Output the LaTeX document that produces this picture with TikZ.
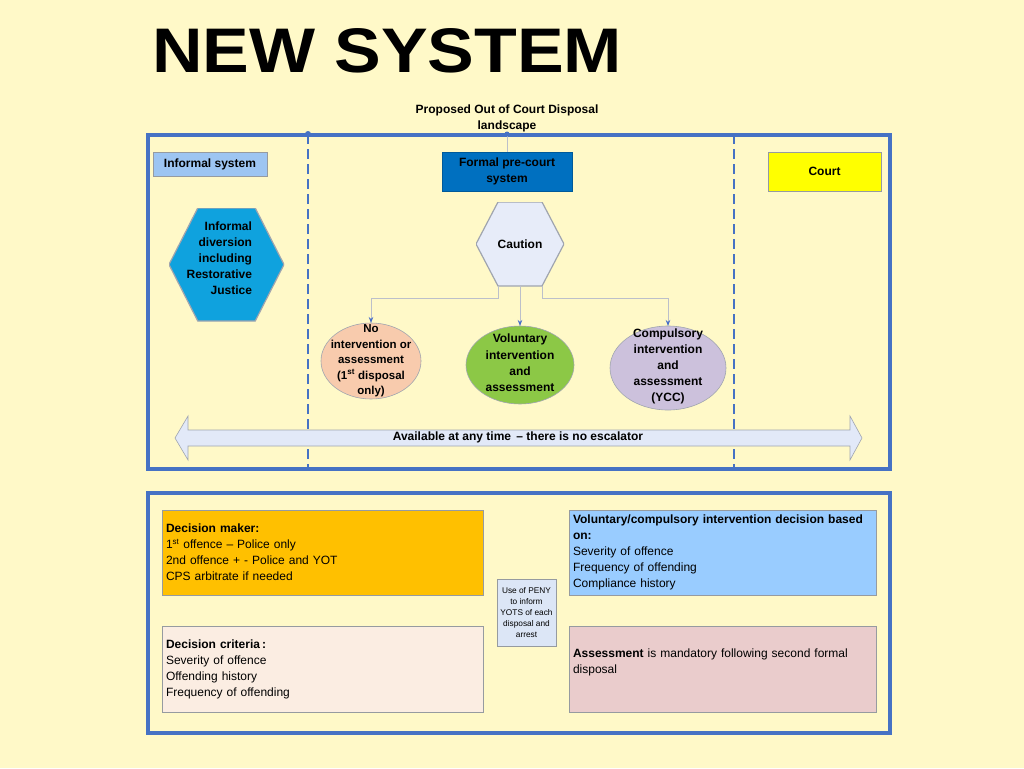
\documentclass[tikz,border=0pt]{standalone}
\usepackage{fontspec}
\setmainfont{Liberation Sans}
\usetikzlibrary{calc,arrows.meta,shapes.geometric}
\definecolor{bg}{RGB}{255,249,200}
\definecolor{frameblue}{RGB}{70,114,196}
\definecolor{tagborder}{RGB}{150,155,160}
\definecolor{hexborder}{RGB}{160,165,175}
\definecolor{infsys}{RGB}{157,197,242}
\definecolor{formalfill}{RGB}{0,112,192}
\definecolor{courtfill}{RGB}{255,255,0}
\definecolor{infohex}{RGB}{15,162,222}
\definecolor{cautionfill}{RGB}{231,236,249}
\definecolor{peach}{RGB}{248,203,173}
\definecolor{greenfill}{RGB}{140,200,70}
\definecolor{lavender}{RGB}{204,193,220}
\definecolor{arrowfill}{RGB}{226,233,248}
\definecolor{connline}{RGB}{188,192,202}
\definecolor{arrowblue}{RGB}{70,110,200}
\definecolor{dmfill}{RGB}{255,192,0}
\definecolor{critfill}{RGB}{251,237,226}
\definecolor{volfill}{RGB}{153,204,255}
\definecolor{assfill}{RGB}{234,204,204}
\definecolor{penyfill}{RGB}{220,230,246}
\begin{document}
\begin{tikzpicture}[x=1pt,y=-1pt,
  every node/.style={inner sep=0pt, outer sep=0pt},
  frame/.style={draw=frameblue, line width=4pt},
  divider/.style={draw=frameblue, line width=1.5pt, dash pattern=on 10pt off 5pt},
  lbl/.style={font=\fontsize{12}{16}\selectfont\bfseries, align=center},
  tag/.style={draw=tagborder, line width=0.6pt, lbl},
  hexa/.style={path picture={\path[fill=#1, draw=hexborder, line width=1.2pt]
     (path picture bounding box.west)
     -- ($(path picture bounding box.north west)!0.25!(path picture bounding box.north east)$)
     -- ($(path picture bounding box.north west)!0.75!(path picture bounding box.north east)$)
     -- (path picture bounding box.east)
     -- ($(path picture bounding box.south west)!0.75!(path picture bounding box.south east)$)
     -- ($(path picture bounding box.south west)!0.25!(path picture bounding box.south east)$)
     -- cycle;}},
  ell/.style={ellipse, draw=hexborder, line width=0.6pt},
  etxt/.style={font=\fontsize{11.5}{15.5}\selectfont\bfseries, align=center},
  infobox/.style={draw=tagborder, line width=0.6pt, anchor=north west, align=left,
     inner xsep=4pt, font=\fontsize{12}{16}\selectfont},
  conn/.style={draw=connline, line width=0.8pt, -{Stealth[length=6pt,width=4.5pt,color=arrowblue]}},
  bigarrow/.style={fill=arrowfill, draw=hexborder, line width=0.6pt}
]
\fill[bg] (0,0) rectangle (1024,768);
\useasboundingbox (0,0) rectangle (1024,768);

% title
\node[font=\fontsize{63}{63}\selectfont\bfseries, anchor=base west, xscale=1.11] (title) at (152,72) {NEW SYSTEM};

% top frame
\draw[frame] (148,135) rectangle (890,469);
\coordinate (d1t) at (308,134);
\coordinate (d1b) at (308,469);
\coordinate (d2t) at (734,134);
\coordinate (d2b) at (734,469);
\draw[divider] (d1t) -- (d1b);
\draw[divider] (d2t) -- (d2b);
\fill[frameblue] (d1t) circle (3);

\node[lbl] (prop) at (507,118) {Proposed Out of Court Disposal\\landscape};

% tags
\node[tag, fill=infsys, minimum width=114, minimum height=24] (infsys) at (210,164) {Informal system};
\node[tag, fill=formalfill, draw=formalfill!80!black, minimum width=130, minimum height=39] (formal) at (507,171.5) {Formal pre-court\\system};
\node[tag, fill=courtfill, minimum width=113, minimum height=39] (court) at (824.5,171.5) {Court};
\draw[connline, line width=0.8pt] (prop.south) -- (formal.north);
\fill[frameblue] (507,134) circle (2.5);

% hexagons
\node[hexa=infohex, minimum width=115, minimum height=113] (infh) at (226.5,264.5) {};
\node[lbl, align=right, anchor=east] (inft) at (252,258) {Informal\\diversion\\including\\Restorative\\Justice};
\node[hexa=cautionfill, minimum width=88, minimum height=84, lbl] (caution) at (520,244) {Caution};

% ellipses
\node[ell, fill=peach, minimum width=100, minimum height=76] (e1) at (371,361) {};
\node[etxt] (e1t) at (371,361) {No\\intervention or\\assessment\\(1\textsuperscript{st} disposal\\only)};
\node[ell, fill=greenfill, minimum width=108, minimum height=78] (e2) at (520,365) {};
\node[etxt, font=\fontsize{12}{16.3}\selectfont\bfseries] (e2t) at (520,363) {Voluntary\\intervention\\and\\assessment};
\node[ell, fill=lavender, minimum width=116, minimum height=84] (e3) at (668,368) {};
\node[etxt, font=\fontsize{12}{16}\selectfont\bfseries] (e3t) at (668,366) {Compulsory\\intervention\\and\\assessment\\(YCC)};

% connectors
\draw[conn] ($(caution.south west)!0.25!(caution.south east)$) -- ++(0,12) -| (e1.north);
\draw[conn] (caution.south) -- (e2.north);
\draw[conn] ($(caution.south west)!0.75!(caution.south east)$) -- ++(0,12) -| (e3.north);

% double arrow
\draw[bigarrow] (175,438) -- (188,416) -- (188,430) -- (850,430) -- (850,416) -- (862,438)
   -- (850,460) -- (850,446) -- (188,446) -- (188,460) -- cycle;
\node[lbl] (avail) at (518,437.5) {Available at any time \,– there is no escalator};

% bottom frame
\draw[frame] (148,493) rectangle (890,733);

\node[infobox, fill=dmfill, text width=313, minimum height=85] (dm) at (162,510)
  {\textbf{Decision maker:}\\1\textsuperscript{st} offence – Police only\\2nd offence + - Police and YOT\\CPS arbitrate if needed};
\node[infobox, fill=critfill, text width=313, minimum height=86] (crit) at (162,626)
  {\textbf{Decision criteria\,:}\\Severity of offence\\Offending history\\Frequency of offending};
\node[draw=tagborder, line width=0.6pt, fill=penyfill, minimum width=59, minimum height=67,
  font=\fontsize{8.3}{11.2}\selectfont, align=center] (peny) at (526.5,612.5)
  {Use of PENY\\to inform\\YOTS of each\\disposal and\\arrest};
\node[infobox, fill=volfill, text width=299, minimum height=85] (vol) at (569,510)
  {\textbf{Voluntary/compulsory intervention decision based}\\\textbf{on:}\\Severity of offence\\Frequency of offending\\Compliance history};
\node[infobox, fill=assfill, text width=299, minimum height=86] (ass) at (569,626)
  {\textbf{Assessment} is mandatory following second formal\\disposal\\\mbox{}};
\end{tikzpicture}
\end{document}
